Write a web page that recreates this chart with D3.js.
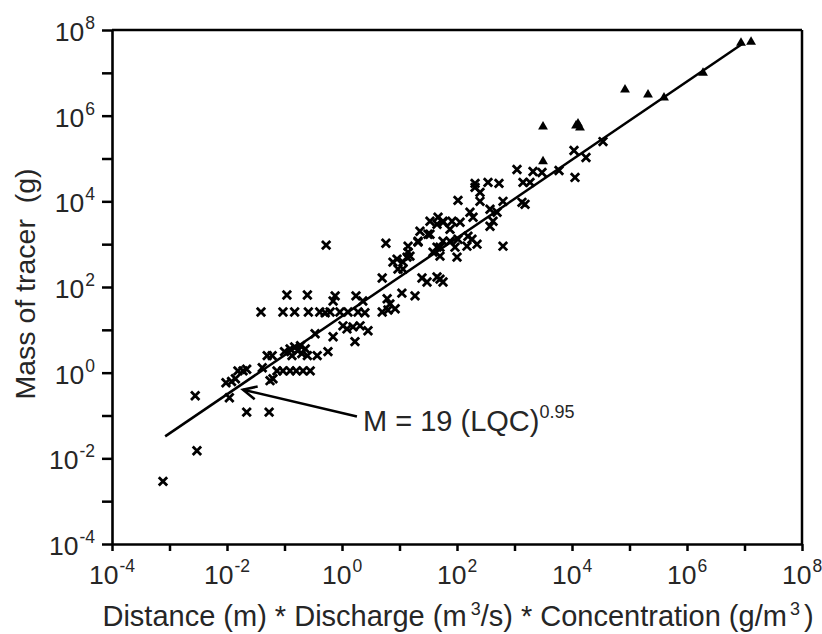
<!DOCTYPE html>
<html><head><meta charset="utf-8">
<script src="https://cdn.jsdelivr.net/npm/d3@7"></script>
<style>
body{margin:0;background:#fff}
text{font-family:"Liberation Sans",Arial,Helvetica,sans-serif;}
</style>
</head><body>
<svg id="chart" width="822" height="634"></svg>
<script>
// ---- data ----
// crosses: L*Q*C (x) and mass of tracer in g (y)
const lqc = [
  7.7e-4, 3.0e-3, 2.8e-3, 1.1e-2, 2.2e-2, 5.4e-2, 9.6e-3, 1.2e-2, 1.4e-2, 1.55e-2,
  1.9e-2, 2.2e-2, 4.1e-2, 5.0e-2, 6.1e-2, 5.6e-2, 6.3e-2, 7.4e-2, 9.4e-2, 0.125,
  0.16, 0.21, 0.28, 0.10, 0.125, 0.15, 0.17, 0.19, 0.20, 0.23,
  0.25, 0.135, 0.37, 0.34, 0.57, 0.70, 1.04, 1.22, 1.55, 2.06,
  2.83, 1.68, 0.039, 0.094, 0.15, 0.26, 0.41, 0.51, 0.62, 0.92,
  1.27, 1.9, 2.5, 5.0, 6.3, 8.4, 0.11, 0.25, 0.76, 1.75,
  0.70, 2.3, 6.1, 6.8, 11, 18.6, 5.0, 9.4, 7.7, 11.5,
  13.5, 14.1, 0.53, 5.8, 14.1, 21, 22.7, 33.9, 44.9, 57.1,
  24.6, 30.1, 50.6, 57.1, 44.9, 38.3, 44.9, 1104, 2099, 3006,
  1406, 1862, 206, 346, 537, 206, 251, 104, 251, 631,
  1349, 1524, 168, 190, 375, 497, 423, 375, 33.9, 46.8,
  57.1, 81.8, 113, 75.5, 31.3, 21, 57.1, 75.5, 104, 155,
  182, 223, 149, 92.3, 50.6, 50.6, 100, 631, 15.2, 9.06,
  11.5, 5943, 10830, 17500, 11270, 34590
];
const mass = [
  2.9e-3, 1.5e-2, 0.29, 0.26, 0.12, 0.12, 0.58, 0.62, 0.72, 1.1,
  1.1, 1.2, 1.3, 2.5, 2.5, 0.65, 0.72, 1.1, 1.1, 1.1,
  1.1, 1.1, 1.1, 3.1, 3.6, 4.0, 3.25, 4.25, 2.8, 3.6,
  2.5, 2.5, 2.5, 8.1, 3.1, 6.9, 12.4, 10.5, 11.7, 12.4,
  9.5, 5.3, 26, 26, 26, 26, 26, 25, 26, 26,
  26, 26, 25, 26, 29, 31, 65, 65, 62, 62,
  47, 47, 53, 40, 72, 62, 162, 262, 381, 381,
  499, 652, 948, 1054, 898, 1114, 2004, 1710, 2917, 3251,
  162, 131, 153, 131, 171, 652, 851, 55460, 49890, 47200,
  27670, 27670, 26240, 27670, 26240, 21180, 16180, 10540, 10000, 10000,
  9480, 8510, 5546, 4246, 6516, 5546, 3428, 2624, 3428, 4246,
  3428, 3428, 3251, 2234, 1710, 1175, 1175, 1175, 1306, 1535,
  1306, 1000, 898, 851, 851, 526, 499, 898, 526, 448,
  262, 52600, 153500, 105400, 36140, 248300
];
// triangles
const triLQC  = [3133, 12710, 13770, 11750, 3133, 83560, 209900, 398100, 1.9e6, 8.69e6, 1.3e7];
const triMass = [5.55e5, 6.52e5, 5.26e5, 5.85e5, 85110, 4.03e6, 3.08e6, 2.62e6, 1.0e7, 4.99e7, 5.26e7];
// fitted line end points
const fitLQC  = [8.4e-4, 9.1e6];
const fitMass = [0.0325, 4.7e7];
// annotation arrow (tail -> head) and label
const arrowLQC  = [1.82, 0.019];
const arrowMass = [0.095, 0.40];
const annotationText = "M = 19 (LQC)";
const annotationExp = "0.95";
// ticks
const decadeTicks = [1e-4,1e-3,1e-2,1e-1,1e0,1e1,1e2,1e3,1e4,1e5,1e6,1e7,1e8];
const labelTicks = [1e-4,1e-2,1e0,1e2,1e4,1e6,1e8];
const labelExps = ["-4","-2","0","2","4","6","8"];
const yTitle = "Mass of tracer  (g)";

// ---- drawing ----
const svg = d3.select('#chart');
const L = 112, T = 30, R = 802, B = 544;
const x = d3.scaleLog().domain([1e-4, 1e8]).range([L, R]);
const y = d3.scaleLog().domain([1e-4, 1e8]).range([B, T]);
const txtColor = '#262626';

// frame top/right
svg.append('line').attr('x1', L).attr('x2', R).attr('y1', T).attr('y2', T)
  .attr('stroke', '#000').attr('stroke-width', 2.5);
svg.append('line').attr('x1', R).attr('x2', R).attr('y1', T).attr('y2', B)
  .attr('stroke', '#000').attr('stroke-width', 2.5);

const styleAxis = g => {
  g.select('.domain').attr('stroke', '#000').attr('stroke-width', 2.6);
  g.selectAll('.tick line').attr('stroke', '#000').attr('stroke-width', 2.5);
};
svg.append('g').attr('transform', `translate(0,${B})`)
  .call(d3.axisBottom(x).tickValues(decadeTicks).tickSize(7).tickSizeOuter(0).tickFormat(''))
  .call(styleAxis);
svg.append('g').attr('transform', `translate(${L},0)`)
  .call(d3.axisLeft(y).tickValues(decadeTicks).tickSize(10).tickSizeOuter(0).tickFormat(''))
  .call(styleAxis);

// tick labels
labelTicks.forEach((v, i) => {
  const tx = svg.append('text').attr('x', x(v)).attr('y', 584)
    .attr('text-anchor', 'middle').attr('font-size', 26.5).attr('fill', txtColor);
  tx.append('tspan').text('10');
  tx.append('tspan').attr('font-size', 17.5).attr('dx', 1).attr('dy', -12).text(labelExps[i]);
  const ty = svg.append('text').attr('x', 95).attr('y', y(v) + 11)
    .attr('text-anchor', 'end').attr('font-size', 26.5).attr('fill', txtColor);
  ty.append('tspan').text('10');
  ty.append('tspan').attr('font-size', 17.5).attr('dx', 1).attr('dy', -12).text(labelExps[i]);
});

// axis titles
const xt = svg.append('text').attr('x', (L + R) / 2 + 1).attr('y', 626)
  .attr('text-anchor', 'middle').attr('font-size', 29).attr('fill', txtColor);
xt.append('tspan').text('Distance (m) * Discharge (m');
xt.append('tspan').attr('dx', 4).attr('dy', -11).attr('font-size', 18).text('3');
xt.append('tspan').attr('dy', 11).text('/s) * Concentration (g/m');
xt.append('tspan').attr('dx', 3).attr('dy', -11).attr('font-size', 18).text('3');
xt.append('tspan').attr('dx', 4).attr('dy', 11).text(')');

svg.append('text').attr('transform', 'translate(35,284) rotate(-90)')
  .attr('text-anchor', 'middle').attr('font-size', 28.5).attr('fill', txtColor)
  .style('white-space', 'pre').text(yTitle);

// fitted line
svg.append('line')
  .attr('x1', x(fitLQC[0])).attr('y1', y(fitMass[0]))
  .attr('x2', x(fitLQC[1])).attr('y2', y(fitMass[1]))
  .attr('stroke', '#000').attr('stroke-width', 2.5);

// crosses
const crosses = lqc.map((v, i) => [v, mass[i]]);
const s = 4.2;
svg.append('g').selectAll('path').data(crosses).join('path')
  .attr('d', d => {
    const cx = x(d[0]), cy = y(d[1]);
    return `M${cx - s},${cy - s}L${cx + s},${cy + s}M${cx - s},${cy + s}L${cx + s},${cy - s}`;
  })
  .attr('stroke', '#000').attr('stroke-width', 2.8).attr('fill', 'none');

// triangles
const tris = triLQC.map((v, i) => [v, triMass[i]]);
svg.append('g').selectAll('path').data(tris).join('path')
  .attr('transform', d => `translate(${x(d[0])},${y(d[1])})`)
  .attr('d', d3.symbol(d3.symbolTriangle, 42))
  .attr('fill', '#000');

// annotation arrow
const ax0 = x(arrowLQC[0]), ay0 = y(arrowMass[0]);
const ax1 = x(arrowLQC[1]), ay1 = y(arrowMass[1]);
svg.append('line').attr('x1', ax0).attr('y1', ay0).attr('x2', ax1).attr('y2', ay1)
  .attr('stroke', '#000').attr('stroke-width', 2.6);
const ang = Math.atan2(ay0 - ay1, ax0 - ax1);
const hl = 15, ha = 0.45;
svg.append('path')
  .attr('d', `M${ax1 + hl * Math.cos(ang - ha)},${ay1 + hl * Math.sin(ang - ha)}L${ax1},${ay1}L${ax1 + hl * Math.cos(ang + ha)},${ay1 + hl * Math.sin(ang + ha)}`)
  .attr('stroke', '#000').attr('stroke-width', 2.6).attr('fill', 'none');

const at = svg.append('text').attr('x', ax0 + 6).attr('y', ay0 + 15)
  .attr('font-size', 29).attr('fill', txtColor);
at.append('tspan').text(annotationText);
at.append('tspan').attr('font-size', 18).attr('dy', -13).text(annotationExp);
</script>
</body></html>
